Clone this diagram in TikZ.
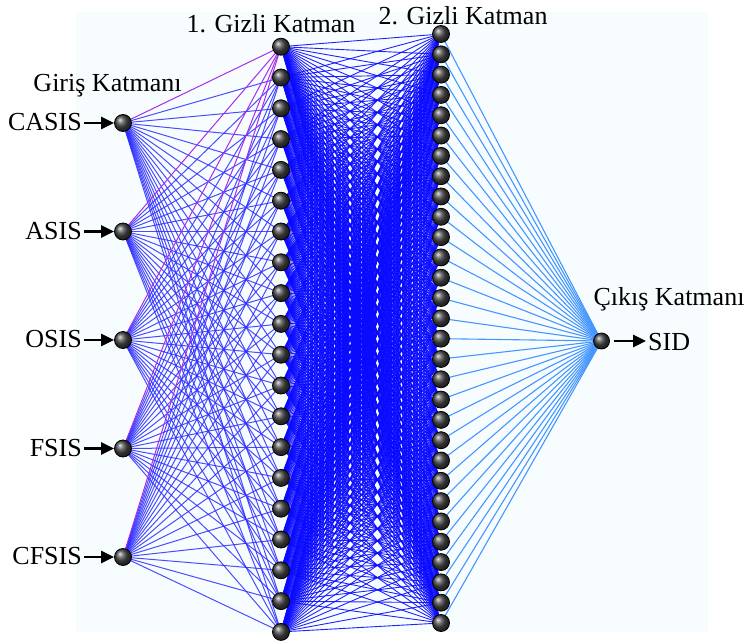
\documentclass[tikz,border=0pt]{standalone}
\usepackage{fontspec}
\setmainfont{Liberation Serif}
\usetikzlibrary{arrows.meta}
\pgfdeclarelayer{back}
\pgfdeclarelayer{wires}
\pgfsetlayers{back,wires,main}
\definecolor{panel}{RGB}{247,253,255}
\definecolor{wireIn}{RGB}{45,45,255}
\definecolor{wireFirst}{RGB}{170,45,235}
\definecolor{wireMid}{RGB}{10,10,255}
\definecolor{wireOut}{RGB}{70,150,255}
\begin{document}
\begin{tikzpicture}[x=1pt,y=-1pt,
  neuron/.style={circle,draw=black,line width=0.8pt,inner sep=0pt,
    minimum size=17pt,shading=ball,ball color=black!72},
  txt/.style={font=\fontsize{26}{30}\selectfont,inner sep=0pt},
  feed/.style={line width=2.8pt,-{Triangle[length=13pt,width=12pt]}},
  inlink/.style={wireIn,line width=1pt,opacity=0.85},
  firstlink/.style={wireFirst,line width=1pt},
  midlink/.style={wireMid,line width=0.9pt,opacity=0.9},
  outlink/.style={wireOut,line width=1.1pt}]
\useasboundingbox (0,0) rectangle (749,642);

% input layer
\foreach \i in {1,...,5}
  \node[neuron] (in-\i) at (123,{123+108.5*(\i-1)}) {};
% first hidden layer (20 units)
\foreach \i in {1,...,20}
  \node[neuron] (h1-\i) at (281,{46.7+30.8*(\i-1)}) {};
% second hidden layer (30 units)
\foreach \i in {1,...,30}
  \node[neuron] (h2-\i) at (441,{34+20.31*(\i-1)}) {};
% output unit
\node[neuron,minimum size=16pt] (out) at (601.5,341) {};

% layer titles
\node[txt,anchor=base] (t0) at (107.5,92) {Giriş Katmanı};
\node[txt,anchor=base] (t1) at (271,33) {1. Gizli Katman};
\node[txt,anchor=base] (t2) at (463,25) {2. Gizli Katman};
\node[txt,anchor=base] (t3) at (669,305) {Çıkış Katmanı};

% input names and their arrows
\foreach \t [count=\i] in {CASIS,ASIS,OSIS,FSIS,CFSIS}{
  \node[txt,anchor=base east] (lab-\i) at (82,{123+108.5*(\i-1)+7.5}) {\t};
  \draw[feed,shorten <=2pt] (lab-\i.east |- in-\i) -- (in-\i.west);
}

% output name and arrow
\node[txt,anchor=base west] (sid) at (648,350) {SID};
\draw[feed,shorten <=4pt,shorten >=2pt] (out.east) -- (sid.west |- out);

% panel behind the network
\begin{pgfonlayer}{back}
  \fill[panel] (76,12) rectangle (708,632);
\end{pgfonlayer}

% weighted connections
\begin{pgfonlayer}{wires}
  \foreach \i in {1,...,5}
    \foreach \j in {2,...,20}
      \draw[inlink] (in-\i.center) -- (h1-\j.center);
  \foreach \i in {1,...,5}
    \draw[firstlink] (in-\i.center) -- (h1-1.center);
  \foreach \i in {1,...,20}
    \foreach \j in {1,...,30}
      \draw[midlink] (h1-\i.center) -- (h2-\j.center);
  \foreach \j in {1,...,30}
    \draw[outlink] (h2-\j.center) -- (out.center);
\end{pgfonlayer}
\end{tikzpicture}
\end{document}
